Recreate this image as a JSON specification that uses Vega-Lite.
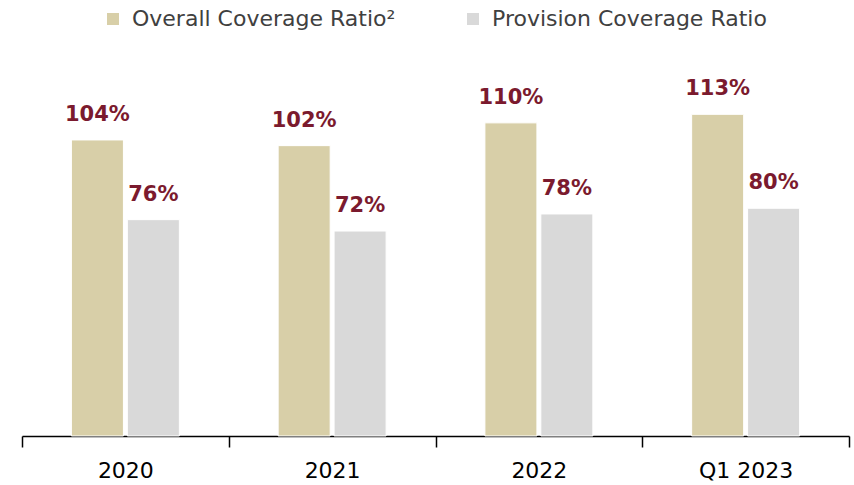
{
  "$schema": "https://vega.github.io/schema/vega-lite/v6.json",
  "width": 827,
  "height": 427,
  "autosize": {"type": "none"},
  "padding": {"left": 22, "top": 9, "right": 5, "bottom": 49},
  "background": "white",
  "config": {"view": {"stroke": null}, "font": "DejaVu Sans"},
  "data": {
    "values": [
      {"period": "2020", "series": "Overall Coverage Ratio²", "value": 104},
      {"period": "2020", "series": "Provision Coverage Ratio", "value": 76},
      {"period": "2021", "series": "Overall Coverage Ratio²", "value": 102},
      {"period": "2021", "series": "Provision Coverage Ratio", "value": 72},
      {"period": "2022", "series": "Overall Coverage Ratio²", "value": 110},
      {"period": "2022", "series": "Provision Coverage Ratio", "value": 78},
      {"period": "Q1 2023", "series": "Overall Coverage Ratio²", "value": 113},
      {"period": "Q1 2023", "series": "Provision Coverage Ratio", "value": 80}
    ]
  },
  "encoding": {
    "x": {
      "field": "period",
      "type": "nominal",
      "sort": null,
      "scale": {"paddingInner": 0, "paddingOuter": 0},
      "axis": {
        "title": null,
        "labelAngle": 0,
        "labelFontSize": 22,
        "labelColor": "#000000",
        "labelPadding": 13,
        "tickBand": "extent",
        "tickSize": 11,
        "tickColor": "#000000",
        "tickWidth": 1.5,
        "domainColor": "#000000",
        "domainWidth": 1.5,
        "grid": false
      }
    },
    "xOffset": {
      "field": "series",
      "type": "nominal",
      "sort": ["Overall Coverage Ratio²", "Provision Coverage Ratio"],
      "scale": {"paddingInner": 0.07, "paddingOuter": 0.883}
    },
    "y": {
      "field": "value",
      "type": "quantitative",
      "scale": {"domain": [0, 150]},
      "axis": null
    }
  },
  "layer": [
    {
      "mark": {"type": "bar", "stroke": "#ffffff", "strokeWidth": 1},
      "encoding": {
        "color": {
          "field": "series",
          "type": "nominal",
          "sort": ["Overall Coverage Ratio²", "Provision Coverage Ratio"],
          "scale": {
            "domain": ["Overall Coverage Ratio²", "Provision Coverage Ratio"],
            "range": ["#D8CFA8", "#D9D9D9"]
          },
          "legend": {
            "title": null,
            "orient": "none",
            "legendX": 80,
            "legendY": -1,
            "direction": "horizontal",
            "symbolType": "square",
            "symbolSize": 144,
            "symbolStrokeWidth": 0,
            "labelFontSize": 22,
            "labelColor": "#404040",
            "labelLimit": 400,
            "labelOffset": 8,
            "columnPadding": 66
          }
        }
      }
    },
    {
      "transform": [{"calculate": "datum.value + '%'", "as": "label"}],
      "mark": {
        "type": "text",
        "baseline": "bottom",
        "dy": -15,
        "fontSize": 21,
        "fontWeight": "bold",
        "color": "#7B1A2E"
      },
      "encoding": {
        "text": {"field": "label", "type": "nominal"},
        "detail": {"field": "series"}
      }
    }
  ]
}
